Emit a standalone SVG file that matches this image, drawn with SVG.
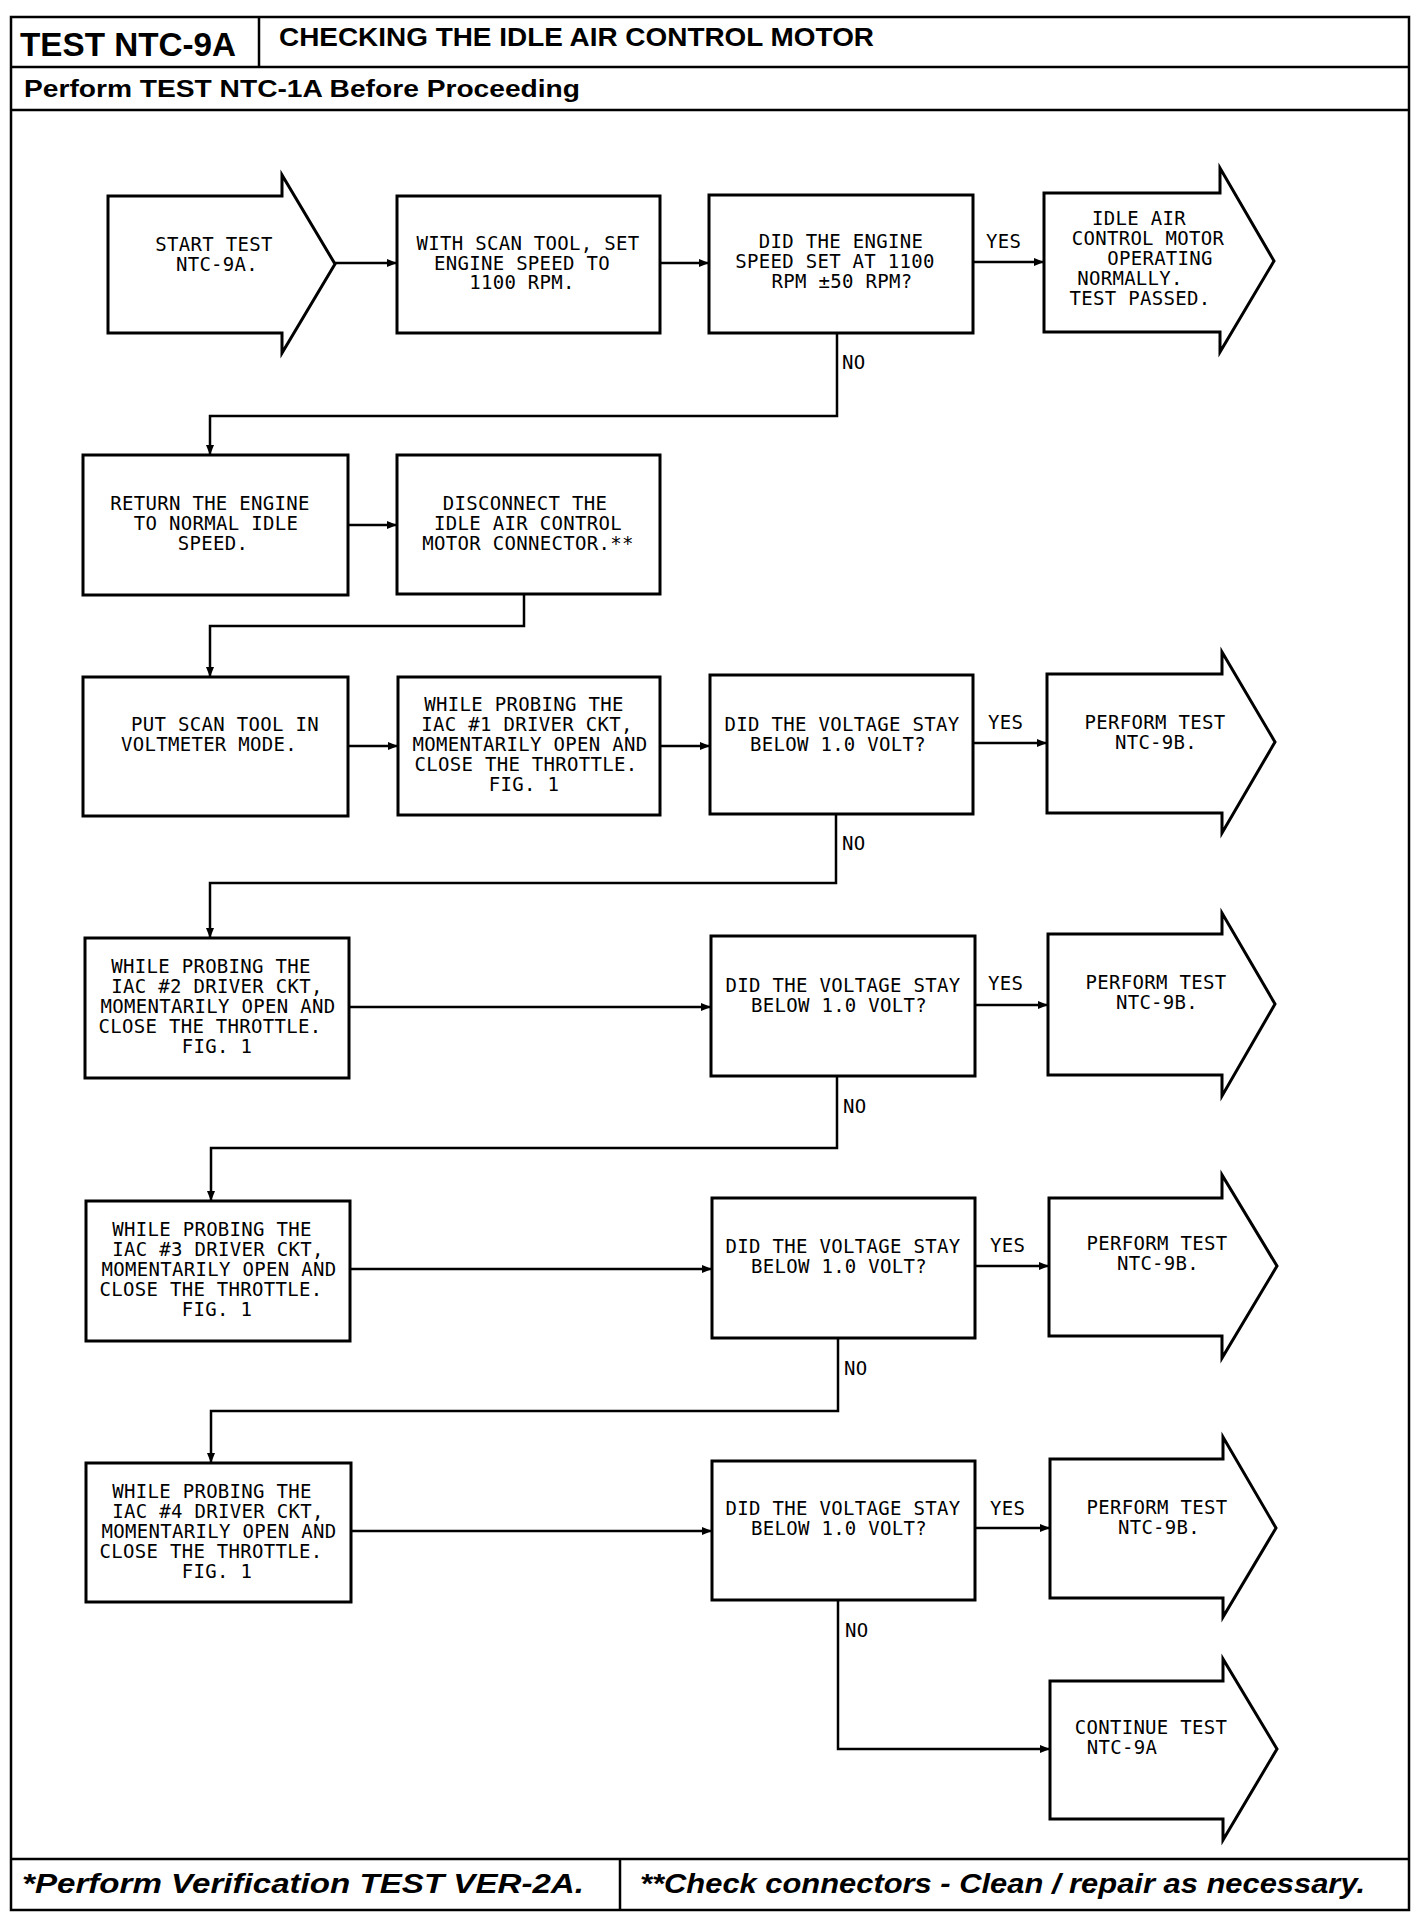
<svg xmlns="http://www.w3.org/2000/svg" width="1424" height="1918" viewBox="0 0 1424 1918">
<style>
.frame{fill:none;stroke:#000;stroke-width:2.5}
.nd{fill:#fff;stroke:#000;stroke-width:3}
.cn{fill:none;stroke:#000;stroke-width:2.5}
.t{font-family:"DejaVu Sans Mono","Liberation Mono",monospace;font-size:19px;letter-spacing:0.3px;fill:#000;text-anchor:middle}
.lb{font-family:"DejaVu Sans Mono","Liberation Mono",monospace;font-size:19px;letter-spacing:0.3px;fill:#000}
.h{font-family:"Liberation Sans",Arial,sans-serif;font-weight:bold;fill:#000}
.f{font-family:"Liberation Sans",Arial,sans-serif;font-weight:bold;font-style:italic;fill:#000}
</style>
<defs>
<marker id="ah" markerUnits="userSpaceOnUse" markerWidth="10" markerHeight="8" refX="10" refY="4" orient="auto">
<path d="M0,0 L10,4 L0,8 z" fill="#000"/>
</marker>
</defs>
<rect width="1424" height="1918" fill="#fff"/>
<g id="frame">
<rect class="frame" x="11" y="17" width="1398" height="1893"/>
<line class="frame" x1="259" y1="17" x2="259" y2="67"/>
<line class="frame" x1="11" y1="67" x2="1409" y2="67"/>
<line class="frame" x1="11" y1="110" x2="1409" y2="110"/>
<line class="frame" x1="11" y1="1859" x2="1409" y2="1859"/>
<line class="frame" x1="620" y1="1859" x2="620" y2="1910"/>
<text class="h" x="20" y="56" font-size="34" textLength="216" lengthAdjust="spacingAndGlyphs">TEST NTC-9A</text>
<text class="h" x="279" y="46" font-size="25" textLength="595" lengthAdjust="spacingAndGlyphs">CHECKING THE IDLE AIR CONTROL MOTOR</text>
<text class="h" x="24" y="97" font-size="23" textLength="556" lengthAdjust="spacingAndGlyphs">Perform TEST NTC-1A Before Proceeding</text>
<text class="f" x="22" y="1893" font-size="27" textLength="562" lengthAdjust="spacingAndGlyphs">*Perform Verification TEST VER-2A.</text>
<text class="f" x="640" y="1893" font-size="27" textLength="725" lengthAdjust="spacingAndGlyphs">**Check connectors - Clean / repair as necessary.</text>
</g>
<g id="connectors">
<polyline class="cn" points="335,263 397,263" marker-end="url(#ah)"/>
<polyline class="cn" points="660,263 709,263" marker-end="url(#ah)"/>
<polyline class="cn" points="973,262 1044,262" marker-end="url(#ah)"/>
<polyline class="cn" points="837,333 837,416 210,416 210,455" marker-end="url(#ah)"/>
<polyline class="cn" points="348,525 397,525" marker-end="url(#ah)"/>
<polyline class="cn" points="524,594 524,626 210,626 210,677" marker-end="url(#ah)"/>
<polyline class="cn" points="348,746 398,746" marker-end="url(#ah)"/>
<polyline class="cn" points="660,746 710,746" marker-end="url(#ah)"/>
<polyline class="cn" points="973,743 1047,743" marker-end="url(#ah)"/>
<polyline class="cn" points="836,814 836,883 210,883 210,938" marker-end="url(#ah)"/>
<polyline class="cn" points="349,1007 711,1007" marker-end="url(#ah)"/>
<polyline class="cn" points="975,1005 1048,1005" marker-end="url(#ah)"/>
<polyline class="cn" points="837,1076 837,1148 211,1148 211,1201" marker-end="url(#ah)"/>
<polyline class="cn" points="350,1269 712,1269" marker-end="url(#ah)"/>
<polyline class="cn" points="975,1266 1049,1266" marker-end="url(#ah)"/>
<polyline class="cn" points="838,1338 838,1411 211,1411 211,1463" marker-end="url(#ah)"/>
<polyline class="cn" points="351,1531 712,1531" marker-end="url(#ah)"/>
<polyline class="cn" points="975,1528 1050,1528" marker-end="url(#ah)"/>
<polyline class="cn" points="838,1600 838,1749 1050,1749" marker-end="url(#ah)"/>
<text class="lb" x="986" y="248">YES</text>
<text class="lb" x="842" y="369">NO</text>
<text class="lb" x="988" y="729">YES</text>
<text class="lb" x="842" y="850">NO</text>
<text class="lb" x="988" y="990">YES</text>
<text class="lb" x="843" y="1113">NO</text>
<text class="lb" x="990" y="1252">YES</text>
<text class="lb" x="844" y="1375">NO</text>
<text class="lb" x="990" y="1515">YES</text>
<text class="lb" x="845" y="1637">NO</text>
</g>
<g id="start">
<polygon class="nd" points="108,196 282,196 282,175 335,264 282,353 282,333 108,333"/>
<text class="t" x="214" y="251">START TEST</text>
<text class="t" x="217" y="271">NTC-9A.</text>
</g>
<g id="set-speed">
<rect class="nd" x="397" y="196" width="263" height="137"/>
<text class="t" x="528" y="250">WITH SCAN TOOL, SET</text>
<text class="t" x="522" y="269.5">ENGINE SPEED TO</text>
<text class="t" x="522" y="289">1100 RPM.</text>
</g>
<g id="q-speed">
<rect class="nd" x="709" y="195" width="264" height="138"/>
<text class="t" x="841" y="248">DID THE ENGINE</text>
<text class="t" x="835" y="268">SPEED SET AT 1100</text>
<text class="t" x="842" y="287.5">RPM ±50 RPM?</text>
</g>
<g id="passed">
<polygon class="nd" points="1044,193 1220,193 1220,168 1274,261 1220,352 1220,332 1044,332"/>
<text class="t" x="1139" y="225">IDLE AIR</text>
<text class="t" x="1148" y="245">CONTROL MOTOR</text>
<text class="t" x="1160" y="265">OPERATING</text>
<text class="t" x="1130" y="285">NORMALLY.</text>
<text class="t" x="1140" y="305">TEST PASSED.</text>
</g>
<g id="return-idle">
<rect class="nd" x="83" y="455" width="265" height="140"/>
<text class="t" x="210" y="510">RETURN THE ENGINE</text>
<text class="t" x="216" y="530">TO NORMAL IDLE</text>
<text class="t" x="213" y="550">SPEED.</text>
</g>
<g id="disconnect">
<rect class="nd" x="397" y="455" width="263" height="139"/>
<text class="t" x="525" y="510">DISCONNECT THE</text>
<text class="t" x="528" y="530">IDLE AIR CONTROL</text>
<text class="t" x="528" y="550">MOTOR CONNECTOR.**</text>
</g>
<g id="voltmeter">
<rect class="nd" x="83" y="677" width="265" height="139"/>
<text class="t" x="225" y="731">PUT SCAN TOOL IN</text>
<text class="t" x="209" y="751">VOLTMETER MODE.</text>
</g>
<g id="probe-1">
<rect class="nd" x="398" y="677" width="262" height="138"/>
<text class="t" x="524" y="711">WHILE PROBING THE</text>
<text class="t" x="527" y="731">IAC #1 DRIVER CKT,</text>
<text class="t" x="530" y="751">MOMENTARILY OPEN AND</text>
<text class="t" x="526" y="771">CLOSE THE THROTTLE.</text>
<text class="t" x="524" y="791">FIG. 1</text>
</g>
<g id="q-volt-1">
<rect class="nd" x="710" y="675" width="263" height="139"/>
<text class="t" x="842" y="731">DID THE VOLTAGE STAY</text>
<text class="t" x="838" y="751">BELOW 1.0 VOLT?</text>
</g>
<g id="ntc9b-1">
<polygon class="nd" points="1047,674 1222,674 1222,652 1275,742 1222,833 1222,813 1047,813"/>
<text class="t" x="1155" y="729">PERFORM TEST</text>
<text class="t" x="1156" y="749">NTC-9B.</text>
</g>
<g id="probe-2">
<rect class="nd" x="85" y="938" width="264" height="140"/>
<text class="t" x="211" y="973">WHILE PROBING THE</text>
<text class="t" x="217" y="993">IAC #2 DRIVER CKT,</text>
<text class="t" x="218" y="1013">MOMENTARILY OPEN AND</text>
<text class="t" x="210" y="1033">CLOSE THE THROTTLE.</text>
<text class="t" x="217" y="1053">FIG. 1</text>
</g>
<g id="q-volt-2">
<rect class="nd" x="711" y="936" width="264" height="140"/>
<text class="t" x="843" y="992">DID THE VOLTAGE STAY</text>
<text class="t" x="839" y="1012">BELOW 1.0 VOLT?</text>
</g>
<g id="ntc9b-2">
<polygon class="nd" points="1048,934 1222,934 1222,913 1275,1004 1222,1096 1222,1075 1048,1075"/>
<text class="t" x="1156" y="989">PERFORM TEST</text>
<text class="t" x="1157" y="1009">NTC-9B.</text>
</g>
<g id="probe-3">
<rect class="nd" x="86" y="1201" width="264" height="140"/>
<text class="t" x="212" y="1236">WHILE PROBING THE</text>
<text class="t" x="218" y="1256">IAC #3 DRIVER CKT,</text>
<text class="t" x="219" y="1276">MOMENTARILY OPEN AND</text>
<text class="t" x="211" y="1296">CLOSE THE THROTTLE.</text>
<text class="t" x="217" y="1316">FIG. 1</text>
</g>
<g id="q-volt-3">
<rect class="nd" x="712" y="1198" width="263" height="140"/>
<text class="t" x="843" y="1253">DID THE VOLTAGE STAY</text>
<text class="t" x="839" y="1273">BELOW 1.0 VOLT?</text>
</g>
<g id="ntc9b-3">
<polygon class="nd" points="1049,1198 1222,1198 1222,1175 1277,1266 1222,1358 1222,1336 1049,1336"/>
<text class="t" x="1157" y="1250">PERFORM TEST</text>
<text class="t" x="1158" y="1270">NTC-9B.</text>
</g>
<g id="probe-4">
<rect class="nd" x="86" y="1463" width="265" height="139"/>
<text class="t" x="212" y="1498">WHILE PROBING THE</text>
<text class="t" x="218" y="1518">IAC #4 DRIVER CKT,</text>
<text class="t" x="219" y="1538">MOMENTARILY OPEN AND</text>
<text class="t" x="211" y="1558">CLOSE THE THROTTLE.</text>
<text class="t" x="217" y="1578">FIG. 1</text>
</g>
<g id="q-volt-4">
<rect class="nd" x="712" y="1461" width="263" height="139"/>
<text class="t" x="843" y="1515">DID THE VOLTAGE STAY</text>
<text class="t" x="839" y="1535">BELOW 1.0 VOLT?</text>
</g>
<g id="ntc9b-4">
<polygon class="nd" points="1050,1459 1223,1459 1223,1437 1276,1528 1223,1617 1223,1598 1050,1598"/>
<text class="t" x="1157" y="1514">PERFORM TEST</text>
<text class="t" x="1159" y="1534">NTC-9B.</text>
</g>
<g id="continue">
<polygon class="nd" points="1050,1681 1223,1681 1223,1659 1277,1749 1223,1840 1223,1819 1050,1819"/>
<text class="t" x="1151" y="1734">CONTINUE TEST</text>
<text class="t" x="1122" y="1754">NTC-9A</text>
</g>
</svg>
